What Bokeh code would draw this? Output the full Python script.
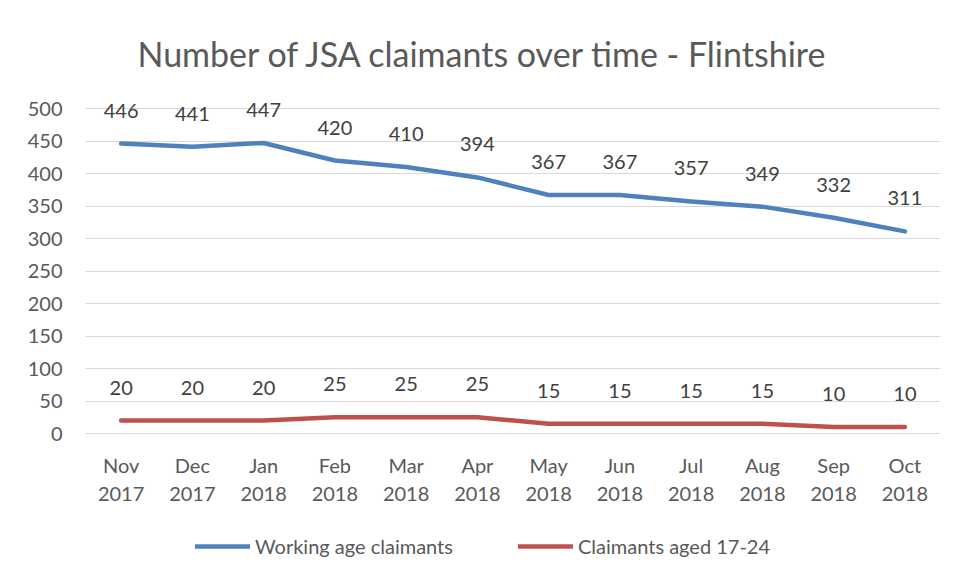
from bokeh.plotting import figure
from bokeh.models import ColumnDataSource, Legend, LegendItem, FixedTicker, Range1d, Title
from bokeh.embed import file_html
from bokeh.resources import INLINE
from bokeh.core.properties import value

months = ["Nov\n2017", "Dec\n2017", "Jan\n2018", "Feb\n2018", "Mar\n2018", "Apr\n2018",
          "May\n2018", "Jun\n2018", "Jul\n2018", "Aug\n2018", "Sep\n2018", "Oct\n2018"]
working_age = [446, 441, 447, 420, 410, 394, 367, 367, 357, 349, 332, 311]
aged_17_24 = [20, 20, 20, 25, 25, 25, 15, 15, 15, 15, 10, 10]
y_ticks = [0, 50, 100, 150, 200, 250, 300, 350, 400, 450, 500]

FONT = "Lato"
TXT = "#595959"

# layout in pixels: frame spans 80..570 vertically, value 0 sits at 433 and 500 at 108
FRAME_TOP, FRAME_BOTTOM, ZERO_PX, SCALE = 80, 570, 433, 0.65
y_lo = (ZERO_PX - FRAME_BOTTOM) / SCALE
y_hi = (ZERO_PX - FRAME_TOP) / SCALE

src = ColumnDataSource(dict(m=months, w=working_age, a=aged_17_24,
                            wl=[str(v) for v in working_age],
                            al=[str(v) for v in aged_17_24]))

p = figure(x_range=months, y_range=Range1d(y_lo, y_hi), width=955, height=575,
           output_backend="svg", toolbar_location=None,
           min_border_left=85, min_border_right=15, min_border_top=FRAME_TOP,
           min_border_bottom=575 - FRAME_BOTTOM)
p.title = Title(text="Number of JSA claimants over time - Flintshire", align="left",
                text_font=FONT, text_font_size="34px", text_font_style="normal",
                text_color=TXT, offset=52, standoff=13)
p.outline_line_color = None
p.background_fill_color = "white"
p.border_fill_color = "white"

p.yaxis.ticker = FixedTicker(ticks=y_ticks)
p.ygrid.grid_line_color = "#d9d9d9"
p.ygrid.grid_line_width = 1
p.xgrid.grid_line_color = None
for ax in (p.xaxis[0], p.yaxis[0]):
    ax.axis_line_color = None
    ax.major_tick_line_color = None
    ax.minor_tick_line_color = None
    ax.major_tick_out = 0
    ax.major_tick_in = 0
    ax.major_label_text_font = FONT
    ax.major_label_text_font_size = "20px"
    ax.major_label_text_color = TXT
p.yaxis.major_label_standoff = 23
p.xaxis.fixed_location = 0
p.xaxis.major_label_standoff = 19
p.x_range.range_padding = 0

r1 = p.line("m", "w", source=src, line_color="#4f81bd", line_width=4.5, line_cap="round", line_join="round")
r2 = p.line("m", "a", source=src, line_color="#c0504d", line_width=4.5, line_cap="round", line_join="round")

p.text("m", "w", text="wl", source=src, text_font=value(FONT), text_font_size="20px",
       text_color="#404040", text_align="center", text_baseline="middle", y_offset=-33)
p.text("m", "a", text="al", source=src, text_font=value(FONT), text_font_size="20px",
       text_color="#404040", text_align="center", text_baseline="middle", y_offset=-33)

legend = Legend(items=[LegendItem(label="Working age claimants", renderers=[r1]),
                       LegendItem(label="Claimants aged 17-24", renderers=[r2])],
                orientation="horizontal", location=(110, 12),
                label_text_font=FONT, label_text_font_size="20px", label_text_color=TXT,
                glyph_width=55, glyph_height=20, label_standoff=5, label_width=220, spacing=43,
                border_line_color=None, background_fill_alpha=0, margin=0, padding=0)
p.add_layout(legend, "center")

open("out.html", "w").write(file_html(p, INLINE))
